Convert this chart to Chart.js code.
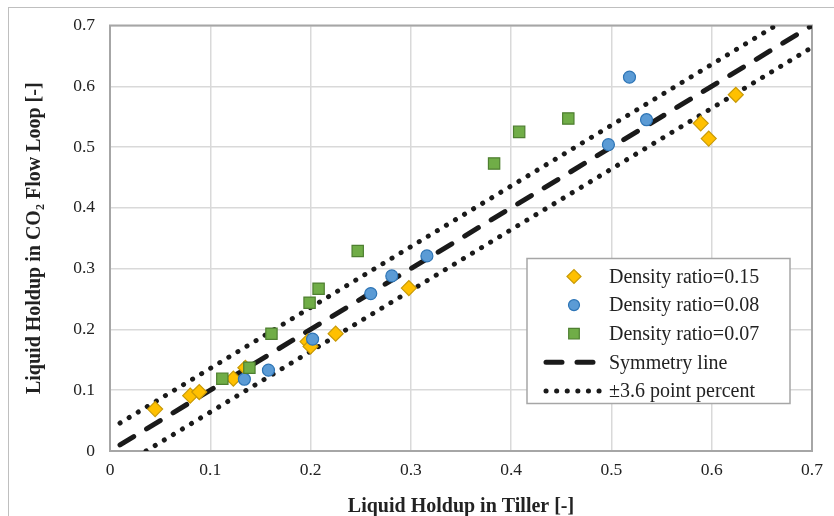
<!DOCTYPE html>
<html>
<head>
<meta charset="utf-8">
<script src="https://cdn.jsdelivr.net/npm/chart.js@4.4.1/dist/chart.umd.min.js"></script>
<style>
    html, body { margin: 0; padding: 0; background: #fff; overflow: hidden; }
    #wrap { position: relative; width: 834px; height: 516px; }
    #frame { position: absolute; left: 8px; top: 7px; width: 900px; height: 600px; border: 1px solid #bfbfbf; }
    canvas { position: absolute; left: 0; top: 0; }
</style>
</head>
<body>
<div id="wrap">
    <div id="frame"></div>
    <canvas id="holdupChart" width="834" height="516"></canvas>
</div>
<script>
// Datos (x: Tiller, y: CO2 Flow Loop)
const ratio015X = [0.045, 0.080, 0.089, 0.123, 0.135, 0.197, 0.200, 0.225, 0.298, 0.589, 0.597, 0.624];
const ratio015Y = [0.069, 0.091, 0.097, 0.119, 0.137, 0.180, 0.172, 0.193, 0.268, 0.539, 0.514, 0.586];

const ratio008X = [0.134, 0.158, 0.202, 0.260, 0.281, 0.316, 0.497, 0.518, 0.535];
const ratio008Y = [0.118, 0.133, 0.184, 0.259, 0.288, 0.321, 0.504, 0.615, 0.545];

const ratio007X = [0.112, 0.139, 0.161, 0.199, 0.208, 0.247, 0.383, 0.408, 0.457];
const ratio007Y = [0.119, 0.137, 0.193, 0.244, 0.267, 0.329, 0.473, 0.525, 0.547];

// Línea de simetría y bandas de ±3.6 puntos
const symmetryX = [0.01, 0.7];
const symmetryY = [0.01, 0.7];
const upperX = [0.01, 0.664];
const upperY = [0.046, 0.7];
const lowerX = [0.036, 0.7];
const lowerY = [0, 0.664];

const axisTicks = [0, 0.1, 0.2, 0.3, 0.4, 0.5, 0.6, 0.7];

function toPoints(xs, ys) {
    return xs.map((x, i) => ({ x: x, y: ys[i] }));
}

const serif = "'Liberation Serif', 'Times New Roman', serif";

// Borde gris del área de trazado
const plotBorder = {
    id: 'plotBorder',
    beforeDatasetsDraw(chart) {
        const ctx = chart.ctx;
        const a = chart.chartArea;
        ctx.save();
        ctx.strokeStyle = '#a6a6a6';
        ctx.lineWidth = 2;
        ctx.strokeRect(a.left, a.top, a.right - a.left, a.bottom - a.top);
        ctx.restore();
    }
};

// Leyenda con recuadro dentro del área de trazado
const boxLegend = {
    id: 'boxLegend',
    afterDraw(chart) {
        const ctx = chart.ctx;
        const area = chart.chartArea;
        const left = area.right - 285;
        const top = area.top + 233;
        const items = chart.data.datasets.filter(d => !d.hideInLegend);
        ctx.save();
        ctx.fillStyle = '#fff';
        ctx.fillRect(left, top, 263, 145);
        ctx.strokeStyle = '#a6a6a6';
        ctx.lineWidth = 1.5;
        ctx.strokeRect(left, top, 263, 145);
        ctx.font = '20px ' + serif;
        ctx.textBaseline = 'middle';
        items.forEach((ds, i) => {
            const cy = top + 18 + i * 28.6;
            const cx = left + 47;
            ctx.save();
            ctx.strokeStyle = ds.borderColor;
            ctx.lineWidth = ds.borderWidth;
            if (ds.showLine) {
                ctx.lineCap = 'round';
                ctx.setLineDash(ds.borderDash);
                ctx.beginPath();
                ctx.moveTo(cx - 28, cy);
                ctx.lineTo(cx + 28, cy);
                ctx.stroke();
            } else {
                ctx.fillStyle = ds.backgroundColor;
                Chart.helpers.drawPoint(ctx, {
                    pointStyle: ds.pointStyle,
                    radius: ds.pointRadius - 0.5,
                    borderWidth: ds.borderWidth,
                    rotation: 0
                }, cx, cy);
            }
            ctx.restore();
            ctx.fillStyle = '#222';
            ctx.fillText(ds.label, left + 82, cy + 1);
        });
        ctx.restore();
    }
};

const ctx = document.getElementById('holdupChart').getContext('2d');
const holdupChart = new Chart(ctx, {
    type: 'scatter',
    data: {
        datasets: [
            {
                label: 'Density ratio=0.15',
                data: toPoints(ratio015X, ratio015Y),
                pointStyle: 'rectRot',
                pointRadius: 7.5,
                backgroundColor: '#FFC000',
                borderColor: '#C99A06',
                borderWidth: 1.2,
                order: 3
            },
            {
                label: 'Density ratio=0.08',
                data: toPoints(ratio008X, ratio008Y),
                pointStyle: 'circle',
                pointRadius: 6,
                backgroundColor: '#5B9BD5',
                borderColor: '#2E75B6',
                borderWidth: 1.2,
                order: 2
            },
            {
                label: 'Density ratio=0.07',
                data: toPoints(ratio007X, ratio007Y),
                pointStyle: 'rect',
                pointRadius: 8,
                backgroundColor: '#70AD47',
                borderColor: '#4E7F30',
                borderWidth: 1.2,
                order: 1
            },
            {
                label: 'Symmetry line',
                data: toPoints(symmetryX, symmetryY),
                showLine: true,
                pointRadius: 0,
                borderColor: '#1a1a1a',
                borderWidth: 5,
                borderDash: [16, 15],
                borderCapStyle: 'round',
                order: 4
            },
            {
                label: '±3.6 point percent',
                data: toPoints(upperX, upperY),
                showLine: true,
                pointRadius: 0,
                borderColor: '#1a1a1a',
                borderWidth: 5,
                borderDash: [0.1, 10.5],
                borderCapStyle: 'round',
                order: 5
            },
            {
                label: '±3.6 point percent',
                data: toPoints(lowerX, lowerY),
                showLine: true,
                pointRadius: 0,
                borderColor: '#1a1a1a',
                borderWidth: 5,
                borderDash: [0.1, 10.5],
                borderCapStyle: 'round',
                order: 6,
                hideInLegend: true
            }
        ]
    },
    options: {
        responsive: false,
        animation: false,
        layout: { padding: { left: 23, right: 22, top: 25, bottom: -3 } },
        plugins: {
            legend: { display: false },
            tooltip: { enabled: false }
        },
        scales: {
            x: {
                type: 'linear',
                min: 0,
                max: 0.7,
                afterBuildTicks: (scale) => { scale.ticks = axisTicks.map(v => ({ value: v })); },
                afterFit: (scale) => { scale.height = 68; },
                ticks: {
                    color: '#222',
                    font: { family: serif, size: 17.5 },
                    padding: 9,
                    callback: (v) => String(Math.round(v * 10) / 10)
                },
                grid: { color: '#d9d9d9', lineWidth: 1.5, drawTicks: false },
                border: { display: false },
                title: {
                    display: true,
                    text: 'Liquid Holdup in Tiller [-]',
                    color: '#222',
                    font: { family: serif, size: 20, weight: 'bold' },
                    padding: { top: 0, bottom: 0 }
                }
            },
            y: {
                type: 'linear',
                min: 0,
                max: 0.7,
                afterBuildTicks: (scale) => { scale.ticks = axisTicks.map(v => ({ value: v })); },
                afterFit: (scale) => { scale.width = 87; },
                ticks: {
                    color: '#222',
                    font: { family: serif, size: 17.5 },
                    padding: 15,
                    callback: (v) => String(Math.round(v * 10) / 10)
                },
                grid: { color: '#d9d9d9', lineWidth: 1.5, drawTicks: false },
                border: { display: false },
                title: {
                    display: true,
                    text: 'Liquid Holdup in CO₂ Flow Loop [-]',
                    color: '#222',
                    font: { family: serif, size: 20, weight: 'bold' },
                    padding: { top: 0, bottom: 0 }
                }
            }
        }
    },
    plugins: [plotBorder, boxLegend]
});
</script>
</body>
</html>
